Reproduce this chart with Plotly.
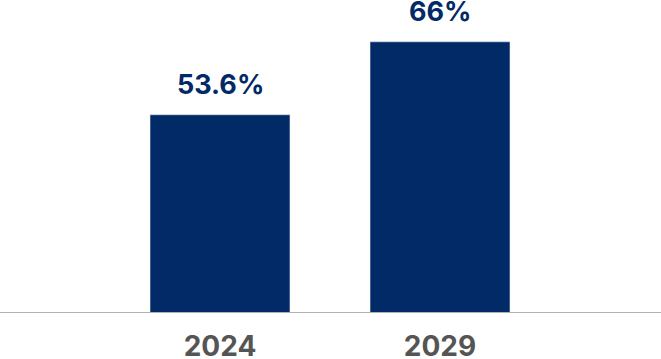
import plotly.graph_objects as go

categories = ["2024", "2029"]
values = [53.6, 66]
labels = ["53.6%", "66%"]

bar_color = "#022a67"

fig = go.Figure()
fig.add_trace(go.Bar(
    x=categories, y=values, marker_color=bar_color, width=0.636,
    hoverinfo="skip",
))
for i, (v, t) in enumerate(zip(values, labels)):
    fig.add_annotation(x=i, y=v, xref="x", yref="y", text=t, showarrow=False,
                       yanchor="bottom", yshift=12,
                       font=dict(family="Inter", size=27, color=bar_color, weight="bold"))

fig.update_layout(
    width=661, height=359,
    margin=dict(l=0, r=0, t=0, b=47),
    plot_bgcolor="white", paper_bgcolor="white",
    showlegend=False,
)
fig.update_xaxes(
    type="category", range=[-1, 2.0045], automargin=False,
    showline=True, linecolor="#b3b3b3", linewidth=1,
    ticks="outside", ticklen=9, tickcolor="rgba(0,0,0,0)",
    tickfont=dict(family="Inter", size=28, color="#555555", weight="bold"),
    showgrid=False,
)
fig.update_yaxes(range=[20.1, 73.1], visible=False, showgrid=False)

fig.write_html("out.html")
